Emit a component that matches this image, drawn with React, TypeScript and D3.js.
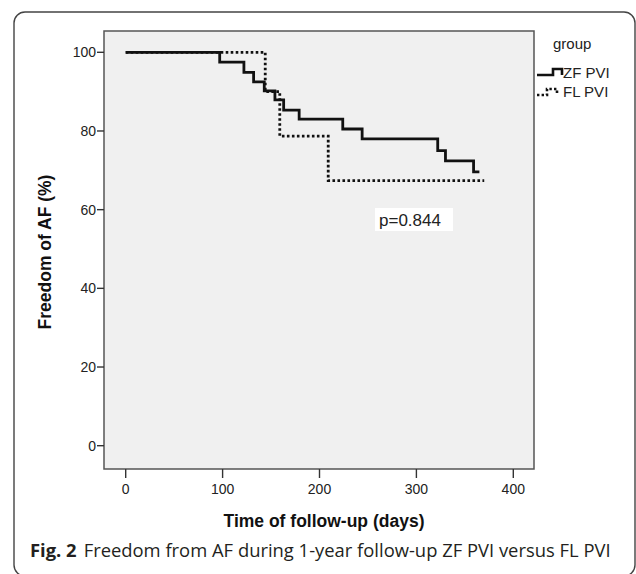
import React, { useRef, useEffect } from 'react'
import * as d3 from 'd3'

// Kaplan-Meier steps (days, % free of AF)
const zfDays = [0, 97, 122, 132, 143, 154, 163, 179, 224, 244, 322, 330, 359, 365]
const zfFree = [100, 97.5, 94.9, 92.5, 90.2, 87.9, 85.3, 83.0, 80.5, 78.0, 75.0, 72.4, 69.6, 69.6]
const flDays = [0, 144, 159, 209, 370]
const flFree = [100, 90.0, 78.7, 67.4, 67.4]

const xTicks = [0, 100, 200, 300, 400]
const yTicks = [0, 20, 40, 60, 80, 100]
const groups = ['ZF PVI', 'FL PVI']

const App = () => {
  const svgRef = useRef(null)

  useEffect(() => {
    const svg = d3.select(svgRef.current)
    svg.selectAll('*').remove()

    const box = { left: 104, right: 534, top: 31, bottom: 469 }
    const font = '"Liberation Sans", Arial, sans-serif'

    // outer figure frame (bottom edge runs just off the page)
    svg.append('rect')
      .attr('x', 14).attr('y', 12)
      .attr('width', 621).attr('height', 564)
      .attr('rx', 11)
      .attr('fill', 'none')
      .attr('stroke', '#444')
      .attr('stroke-width', 1.4)

    const x = d3.scaleLinear().domain([0, 400]).range([125.7, 513.3])
    const y = d3.scaleLinear().domain([0, 100]).range([445.7, 52.3])

    // plot area
    svg.append('rect')
      .attr('x', box.left).attr('y', box.top)
      .attr('width', box.right - box.left).attr('height', box.bottom - box.top)
      .attr('fill', '#f0f0f0')
      .attr('stroke', '#555')
      .attr('stroke-width', 1.5)

    // y axis
    const ya = svg.append('g')
    ya.selectAll('line').data(yTicks).enter().append('line')
      .attr('x1', box.left - 7).attr('x2', box.left)
      .attr('y1', d => y(d)).attr('y2', d => y(d))
      .attr('stroke', '#333').attr('stroke-width', 1.4)
    ya.selectAll('text').data(yTicks).enter().append('text')
      .attr('x', box.left - 8).attr('y', d => y(d))
      .attr('dy', '0.36em')
      .attr('text-anchor', 'end')
      .style('font-family', font).style('font-size', '14px').attr('fill', '#222')
      .text(d => d)

    // x axis
    const xa = svg.append('g')
    xa.selectAll('line').data(xTicks).enter().append('line')
      .attr('x1', d => x(d)).attr('x2', d => x(d))
      .attr('y1', box.bottom).attr('y2', box.bottom + 9)
      .attr('stroke', '#333').attr('stroke-width', 1.4)
    xa.selectAll('text').data(xTicks).enter().append('text')
      .attr('x', d => x(d)).attr('y', box.bottom + 25)
      .attr('text-anchor', 'middle')
      .style('font-family', font).style('font-size', '14px').attr('fill', '#222')
      .text(d => d)

    // axis titles
    svg.append('text')
      .attr('x', 324).attr('y', 527)
      .attr('text-anchor', 'middle')
      .style('font-family', font).style('font-size', '17.5px').style('font-weight', 'bold')
      .attr('fill', '#111')
      .text('Time of follow-up (days)')
    svg.append('text')
      .attr('transform', 'translate(51,252) rotate(-90)')
      .attr('text-anchor', 'middle')
      .style('font-family', font).style('font-size', '17.5px').style('font-weight', 'bold')
      .attr('fill', '#111')
      .text('Freedom of AF (%)')

    // survival curves
    const line = d3.line().curve(d3.curveStepAfter)
    const zf = zfDays.map((d, i) => [x(d), y(zfFree[i])])
    const fl = flDays.map((d, i) => [x(d), y(flFree[i])])
    svg.append('path')
      .attr('d', line(fl))
      .attr('fill', 'none').attr('stroke', '#111')
      .attr('stroke-width', 2.8).attr('stroke-dasharray', '2.6,2.4')
    svg.append('path')
      .attr('d', line(zf))
      .attr('fill', 'none').attr('stroke', '#111')
      .attr('stroke-width', 2.8)

    // p value label
    const pg = svg.append('g')
    pg.append('rect')
      .attr('x', 375).attr('y', 208).attr('width', 78).attr('height', 23)
      .attr('fill', '#fff')
    pg.append('text')
      .attr('x', 379).attr('y', 226)
      .style('font-family', font).style('font-size', '17px').attr('fill', '#222')
      .text('p=0.844')

    // legend
    const lg = svg.append('g')
    lg.append('text')
      .attr('x', 553).attr('y', 49)
      .style('font-family', font).style('font-size', '15px').attr('fill', '#222')
      .text('group')
    const sym = [
      [[537, 75], [553, 75], [553, 69], [562, 69], [562, 75]],
      [[537, 95], [547, 95], [547, 89], [557, 89], [557, 94]],
    ]
    groups.forEach((g, i) => {
      lg.append('path')
        .attr('d', d3.line()(sym[i]))
        .attr('fill', 'none').attr('stroke', '#111')
        .attr('stroke-width', 2.6)
        .attr('stroke-dasharray', i === 1 ? '2.4,2.2' : null)
      lg.append('text')
        .attr('x', 563).attr('y', 78 + i * 19)
        .style('font-family', font).style('font-size', '15px').attr('fill', '#222')
        .text(g)
    })

    // caption
    const cap = svg.append('text')
      .attr('x', 30).attr('y', 557)
      .style('font-family', '"Open Sans", "Noto Sans", sans-serif').style('font-size', '18.4px')
      .attr('fill', '#231f20')
    cap.append('tspan').style('font-weight', 'bold').text('Fig. 2')
    cap.append('tspan').attr('dx', 7).text('Freedom from AF during 1-year follow-up ZF PVI versus FL PVI')
  }, [])

  return (
    <svg ref={svgRef} width={636} height={574}
      style={{ position: 'absolute', left: 0, top: 0, background: '#fff' }}></svg>
  )
}

export default App
